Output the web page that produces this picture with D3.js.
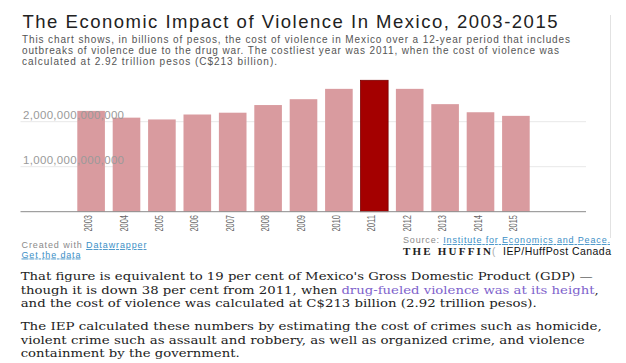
<!DOCTYPE html>
<html>
<head>
<meta charset="utf-8">
<script src="https://cdn.jsdelivr.net/npm/d3@7"></script>
<style>
html,body{margin:0;padding:0;background:#fff;}
svg{display:block;}
</style>
</head>
<body>
<script>
// ---- data ----
const years = ["2003","2004","2005","2006","2007","2008","2009","2010","2011","2012","2013","2014","2015"];
const costPesos = [2.24e12, 2.09e12, 2.05e12, 2.16e12, 2.20e12, 2.37e12, 2.50e12, 2.73e12, 2.92e12, 2.73e12, 2.39e12, 2.21e12, 2.13e12];
const highlightYear = "2011";
const yTicks = [1e12, 2e12];
const title = "The Economic Impact of Violence In Mexico, 2003-2015";
const descLines = [
  "This chart shows, in billions of pesos, the cost of violence in Mexico over a 12-year period that includes",
  "outbreaks of violence due to the drug war. The costliest year was 2011, when the cost of violence was",
  "calculated at 2.92 trillion pesos (C$213 billion)."
];

const W = 626, H = 363;
const svg = d3.select("body").append("svg").attr("width", W).attr("height", H);

const sans = "Arial, 'Liberation Sans', Helvetica, sans-serif";
const serif = "'DejaVu Serif', Georgia, serif";

// title
svg.append("text").attr("x", 22.5).attr("y", 27.5)
  .attr("font-family", sans).attr("font-size", 18.5).attr("fill", "#222")
  .attr("textLength", 535).attr("lengthAdjust", "spacing")
  .text(title);

const descLens = [548, 537, 255];
descLines.forEach((t, i) => {
  svg.append("text").attr("x", 22).attr("y", 43.3 + i * 10.6)
    .attr("font-family", sans).attr("font-size", 10).attr("fill", "#555")
    .attr("textLength", descLens[i]).attr("lengthAdjust", "spacing")
    .text(t);
});

// right frame line
svg.append("line").attr("x1", 610.5).attr("x2", 610.5).attr("y1", 15).attr("y2", 238)
  .attr("stroke", "#e2e2e2").attr("stroke-width", 1);

// scales
const x = d3.scaleBand().domain(years).range([73.4, 533.6]).paddingInner(0.22).paddingOuter(0.11);
const y = d3.scaleLinear().domain([0, 3e12]).range([211.7, 76.7]);

// gridlines
svg.append("g").selectAll("line").data(yTicks).join("line")
  .attr("x1", 20.5).attr("x2", 586).attr("y1", d => y(d)).attr("y2", d => y(d))
  .attr("stroke", "#e8e8e8").attr("stroke-width", 1);

// bars
svg.append("g").selectAll("rect").data(years).join("rect")
  .attr("x", d => x(d)).attr("width", x.bandwidth())
  .attr("y", (d, i) => y(costPesos[i])).attr("height", (d, i) => y(0) - y(costPesos[i]))
  .attr("fill", d => d === highlightYear ? "#a40000" : "#d99b9f")
  .attr("stroke", d => d === highlightYear ? "#7a0000" : "none")
  .attr("stroke-width", 0.8);

// y labels
const fmt = d3.format(",.0f");
svg.append("g").selectAll("text").data(yTicks).join("text")
  .attr("x", 23).attr("y", d => y(d) - 2.5)
  .attr("font-family", sans).attr("font-size", 11.5).attr("fill", "#9a9a9a")
  .attr("textLength", 101).attr("lengthAdjust", "spacing")
  .text(d => fmt(d));

// baseline axis
svg.append("line").attr("x1", 20.5).attr("x2", 586).attr("y1", y(0)).attr("y2", y(0))
  .attr("stroke", "#8a8a8a").attr("stroke-width", 1);

// x labels
svg.append("g").selectAll("text").data(years).join("text")
  .attr("transform", d => `translate(${x(d) + x.bandwidth() / 2 + 1},215) rotate(-90)`)
  .attr("text-anchor", "end")
  .attr("font-family", sans).attr("font-size", 10.5).attr("fill", "#666")
  .attr("textLength", 16.5).attr("lengthAdjust", "spacingAndGlyphs")
  .text(d => d);

// footer left
const f1 = svg.append("text").attr("x", 21.5).attr("y", 248)
  .attr("font-family", sans).attr("font-size", 9).attr("fill", "#8a8a8a")
  .attr("textLength", 125).attr("lengthAdjust", "spacing");
f1.append("tspan").text("Created with ");
f1.append("tspan").attr("fill", "#3d8fc6").attr("text-decoration", "underline").text("Datawrapper");
svg.append("text").attr("x", 21.5).attr("y", 257.5)
  .attr("font-family", sans).attr("font-size", 9).attr("fill", "#3d8fc6")
  .attr("text-decoration", "underline")
  .attr("textLength", 59).attr("lengthAdjust", "spacing")
  .text("Get the data");

// footer right
const s1 = svg.append("text").attr("x", 403).attr("y", 243)
  .attr("font-family", sans).attr("font-size", 9).attr("fill", "#8a8a8a")
  .attr("textLength", 207).attr("lengthAdjust", "spacing");
s1.append("tspan").text("Source: ");
s1.append("tspan").attr("fill", "#3d8fc6").attr("text-decoration", "underline").text("Institute for Economics and Peace.");

svg.append("text").attr("x", 403).attr("y", 255)
  .attr("font-family", "'Liberation Serif', 'Times New Roman', serif").attr("font-size", 11)
  .attr("font-weight", "bold").attr("fill", "#222")
  .attr("textLength", 88).attr("lengthAdjust", "spacing")
  .text("THE HUFFIN");
svg.append("text").attr("x", 492).attr("y", 255)
  .attr("font-family", sans).attr("font-size", 10).attr("fill", "#aaa")
  .text("(");
svg.append("text").attr("x", 503).attr("y", 255)
  .attr("font-family", sans).attr("font-size", 10.5).attr("fill", "#111")
  .attr("textLength", 108).attr("lengthAdjust", "spacing")
  .text("IEP/HuffPost Canada");

// body paragraphs
const bodyLines = [
  {y: 280.3, len: 572, parts: [["That figure is equivalent to 19 per cent of Mexico's Gross Domestic Product (GDP) —", null]]},
  {y: 293.7, len: 578, parts: [["though it is down 38 per cent from 2011, when ", null], ["drug-fueled violence was at its height", "#7e62cc"], [",", null]]},
  {y: 307, len: 516, parts: [["and the cost of violence was calculated at C$213 billion (2.92 trillion pesos).", null]]},
  {y: 330.3, len: 581, parts: [["The IEP calculated these numbers by estimating the cost of crimes such as homicide,", null]]},
  {y: 343.7, len: 564, parts: [["violent crime such as assault and robbery, as well as organized crime, and violence", null]]},
  {y: 356.5, len: 219, parts: [["containment by the government.", null]]}
];
bodyLines.forEach(l => {
  const t = svg.append("text").attr("x", 20.7).attr("y", l.y)
    .attr("font-family", serif).attr("font-size", 11.5).attr("fill", "#222")
    .attr("textLength", l.len).attr("lengthAdjust", "spacingAndGlyphs");
  l.parts.forEach(p => {
    const ts = t.append("tspan").text(p[0]);
    if (p[1]) ts.attr("fill", p[1]);
  });
});
</script>
</body>
</html>
